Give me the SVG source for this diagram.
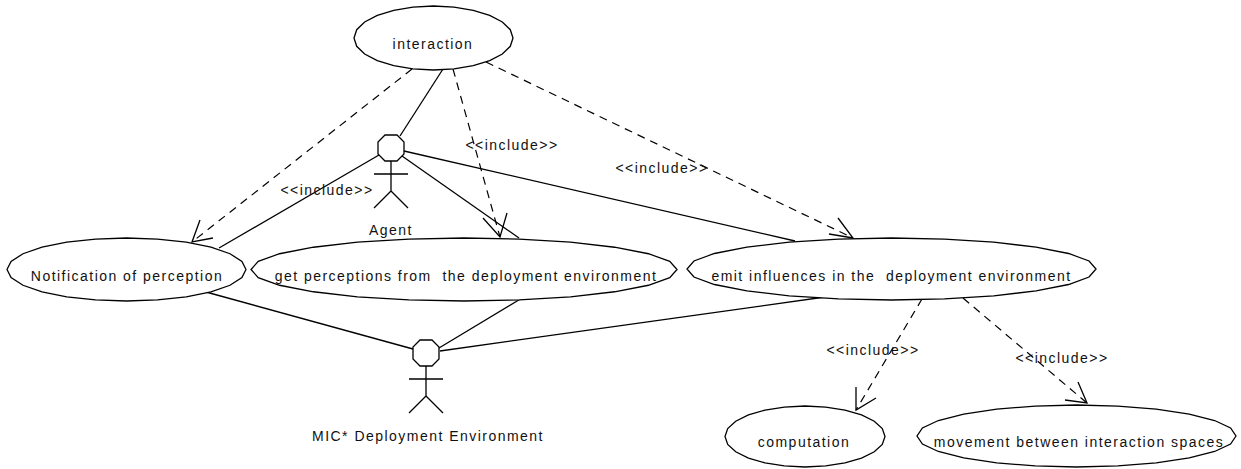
<svg xmlns="http://www.w3.org/2000/svg" width="1241" height="469" viewBox="0 0 1241 469">
<defs>
<style>
text{font-family:"Liberation Sans",Arial,sans-serif;font-size:14px;fill:#111;letter-spacing:1.47px;text-anchor:middle;white-space:pre}
.n{fill:#fff;stroke:#000;stroke-width:1.3;vector-effect:non-scaling-stroke}
.l{fill:none;stroke:#000;stroke-width:1.3}
.d{fill:none;stroke:#000;stroke-width:1.2;stroke-dasharray:8 6}
</style>
<polygon id="oval" class="n" points="1,0 .966,.259 .866,.5 .707,.707 .5,.866 .259,.966 0,1 -.259,.966 -.5,.866 -.707,.707 -.866,.5 -.966,.259 -1,0 -.966,-.259 -.866,-.5 -.707,-.707 -.5,-.866 -.259,-.966 0,-1 .259,-.966 .5,-.866 .707,-.707 .866,-.5 .966,-.259"/>
<g id="actor"><polygon class="l" points="-6,-13 6,-13 13,-6 13,6 6,13 -6,13 -13,6 -13,-6"/><path class="l" d="M0 13V43M-17 26H17M0 43L-17 60M0 43L17 60"/></g>
</defs>
<rect width="1241" height="469" fill="#fff"/>
<g id="connectors">
<path class="d" d="M412 69L192 242"/><path class="l" d="M200 220L192 242L213 238"/>
<path class="d" d="M453 69L500 237"/><path class="l" d="M483 218L500 237L507 213"/>
<path class="d" d="M486 62L853 238"/><path class="l" d="M829 234L853 238L838 218"/>
<path class="d" d="M922 299L856 410"/><path class="l" d="M856 387L856 410L876 398"/>
<path class="d" d="M963 298L1087 403"/><path class="l" d="M1065 400L1087 403L1078 382"/>
<path class="l" d="M443 69L400 136"/>
<path class="l" d="M379 155L219 248"/>
<path class="l" d="M402 156L519 238"/>
<path class="l" d="M404 151L795 241"/>
<path class="l" d="M206 292L413 349"/>
<path class="l" d="M522 298L439 348"/>
<path class="l" d="M825 297L440 351"/>
</g>
<g id="interaction"><use href="#oval" transform="translate(433.5 38) scale(79.5 32)"/><text x="433" y="49">interaction</text></g>
<g id="agent"><use href="#actor" x="391" y="148"/><text x="391" y="235">Agent</text></g>
<g id="notification"><use href="#oval" transform="translate(126.5 269.5) scale(119.5 31.5)"/><text x="127" y="281">Notification of perception</text></g>
<g id="get-perceptions"><use href="#oval" transform="translate(464 269.5) scale(213 31.5)"/><text x="466" y="281">get perceptions from  the deployment environment</text></g>
<g id="emit-influences"><use href="#oval" transform="translate(891.5 269) scale(204.5 31)"/><text x="891.5" y="281">emit influences in the  deployment environment</text></g>
<g id="deployment"><use href="#actor" x="426" y="353"/><text x="428" y="441">MIC* Deployment Environment</text></g>
<g id="computation"><use href="#oval" transform="translate(805 436.5) scale(80 30.5)"/><text x="804" y="447">computation</text></g>
<g id="movement"><use href="#oval" transform="translate(1076.5 436) scale(159.5 31)"/><text x="1079" y="447">movement between interaction spaces</text></g>
<g id="labels">
<text x="512" y="150">&lt;&lt;include&gt;&gt;</text>
<text x="327" y="195">&lt;&lt;include&gt;&gt;</text>
<text x="662" y="173">&lt;&lt;include&gt;&gt;</text>
<text x="873" y="355">&lt;&lt;include&gt;&gt;</text>
<text x="1062" y="363">&lt;&lt;include&gt;&gt;</text>
</g>
</svg>
